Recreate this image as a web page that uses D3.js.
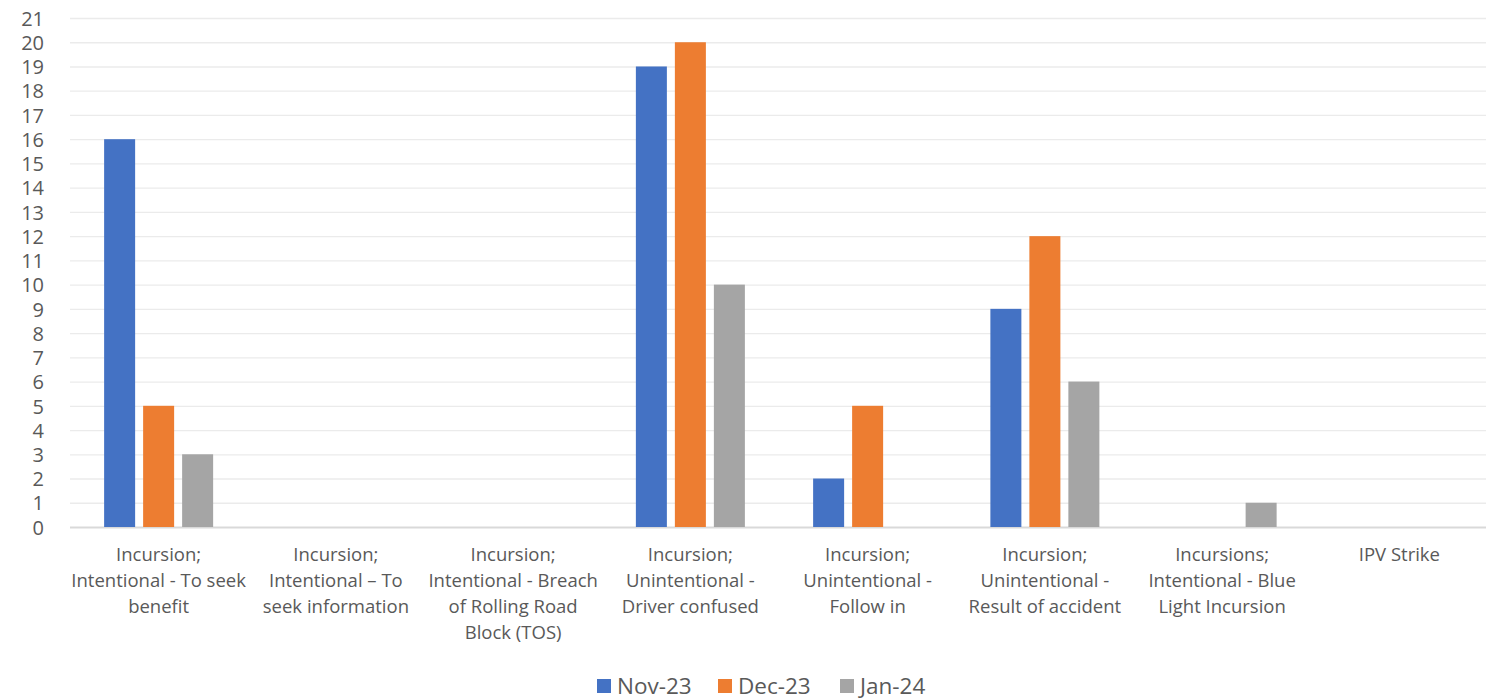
<!DOCTYPE html>
<html><head><meta charset="utf-8">
<script src="https://cdn.jsdelivr.net/npm/d3@7"></script>
<style>
html,body{margin:0;padding:0;background:#fff;}
svg{display:block;}
text{font-family:"Open Sans",sans-serif;fill:#595959;}
</style></head>
<body>
<svg id="chart" width="1486" height="700"></svg>
<script>
const categories = [
  ["Incursion;", "Intentional - To seek", "benefit"],
  ["Incursion;", "Intentional \u2013 To", "seek information"],
  ["Incursion;", "Intentional - Breach", "of Rolling Road", "Block (TOS)"],
  ["Incursion;", "Unintentional -", "Driver confused"],
  ["Incursion;", "Unintentional -", "Follow in"],
  ["Incursion;", "Unintentional -", "Result of accident"],
  ["Incursions;", "Intentional - Blue", "Light Incursion"],
  ["IPV Strike"]
];
const seriesNames = ["Nov-23", "Dec-23", "Jan-24"];
const nov23 = [16, 0, 0, 19, 2, 9, 0, 0];
const dec23 = [5, 0, 0, 20, 5, 12, 0, 0];
const jan24 = [3, 0, 0, 10, 0, 6, 1, 0];
const seriesValues = [nov23, dec23, jan24];
const colors = ["#4472C4", "#ED7D31", "#A5A5A5"];
const yTicks = d3.range(0, 22);

const svg = d3.select("#chart");
const pLeft = 70, pRight = 1488, pTop = 18, pBottom = 527;
const idx = d3.range(categories.length);

const x0 = d3.scaleBand().domain(idx).range([pLeft, pRight]).paddingInner(0.385).paddingOuter(0.1925);
const x1 = d3.scaleBand().domain(d3.range(seriesNames.length)).range([0, x0.bandwidth()]).paddingInner(0.205);
const y = d3.scaleLinear().domain([0, 21]).range([pBottom, pTop]);

// gridlines
const yAxis = d3.axisLeft(y).tickValues(yTicks).tickSize(-(pRight - pLeft)).tickFormat(d3.format("d"));
const gy = svg.append("g").attr("transform", `translate(${pLeft},0)`).call(yAxis);
gy.select(".domain").remove();
gy.selectAll(".tick line").attr("stroke", "#EBEBEB").attr("stroke-width", 1.3);
gy.selectAll(".tick text").attr("x", -26).attr("font-size", 20).attr("dy", "0.36em").style("font-family", "Open Sans").attr("fill", "#595959");
gy.selectAll(".tick").filter(d => d === 0).select("line").attr("stroke", "#D9D9D9").attr("stroke-width", 2);

// bars
const groups = svg.append("g").selectAll("g").data(seriesValues).join("g").attr("fill", (d, i) => colors[i]);
groups.each(function(vals, si) {
  d3.select(this).selectAll("rect").data(vals.map((v, ci) => ({v, ci})).filter(d => d.v > 0)).join("rect")
    .attr("x", d => x0(d.ci) + x1(si))
    .attr("width", x1.bandwidth())
    .attr("y", d => y(d.v))
    .attr("height", d => y(0) - y(d.v));
});

// category labels
const xAxis = d3.axisBottom(x0).tickSize(0).tickFormat("");
const gx = svg.append("g").attr("transform", `translate(0,${pBottom})`).call(xAxis);
gx.select(".domain").remove();
gx.selectAll(".tick").each(function(ci) {
  const t = d3.select(this).append("text").attr("text-anchor", "middle").attr("font-size", 18.5).attr("fill", "#595959");
  categories[ci].forEach((line, li) => {
    t.append("tspan").attr("x", 0).attr("y", 34 + li * 26).text(line);
  });
});

// legend
const legendX = [597, 718, 840];
const lg = svg.append("g");
seriesNames.forEach((name, i) => {
  lg.append("rect").attr("x", legendX[i]).attr("y", 679).attr("width", 14).attr("height", 14).attr("fill", colors[i]);
  lg.append("text").attr("x", legendX[i] + 20).attr("y", 694).attr("font-size", 22.5).text(name);
});
</script>
</body></html>
